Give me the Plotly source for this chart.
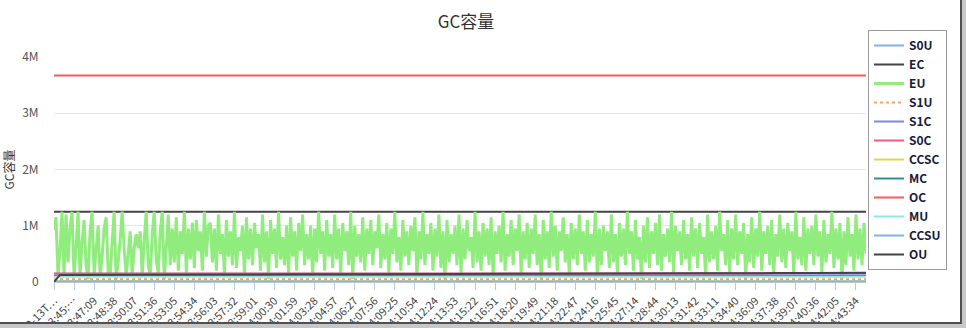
import plotly.graph_objects as go

# ---------------- data (values in M) ----------------
tick_labels = ["2017-10-13T…", "13:45:…", "13:47:09", "13:48:38", "13:50:07", "13:51:36",
               "13:53:05", "13:54:34", "13:56:03", "13:57:32", "13:59:01", "14:00:30",
               "14:01:59", "14:03:28", "14:04:57", "14:06:27", "14:07:56", "14:09:25",
               "14:10:54", "14:12:24", "14:13:53", "14:15:22", "14:16:51", "14:18:20",
               "14:19:49", "14:21:18", "14:22:47", "14:24:16", "14:25:45", "14:27:14",
               "14:28:44", "14:30:13", "14:31:42", "14:33:11", "14:34:40", "14:36:09",
               "14:37:38", "14:39:07", "14:40:36", "14:42:05", "14:43:34"]
samples_per_label = 10

EU = [
    0.92, 1.15, 0.1, 0.55, 1.25, 0.1, 1.2, 0.35, 0.95, 1.25, 0.08, 0.6, 1.25, 0.1, 0.7, 1.1, 0.3, 0.05, 0.9, 1.25,
    0.15, 0.55, 1.0, 0.1, 0.45, 0.95, 1.15, 0.2, 0.1, 0.7, 1.25, 0.05, 0.35, 0.75, 1.25, 0.6, 0.1, 0.5, 0.9, 0.12,
    0.6, 0.85, 0.6, 0.9, 0.1, 0.75, 1.25, 0.3, 0.1, 0.85, 1.25, 0.4, 0.15, 0.9, 1.25, 0.05, 0.6, 1.2, 0.3, 0.95,
    0.35, 1.15, 0.2, 0.9, 0.5, 1.25, 0.15, 0.95, 0.4, 1.05, 0.25, 1.1, 0.55, 0.9, 0.2, 1.25, 0.45, 1.0,
    1.05, 0.35, 0.95, 0.2, 1.2, 0.5, 0.85, 0.15, 1.1, 0.45, 0.9, 0.3, 1.25, 0.25, 0.8, 0.55, 1.0, 0.1, 1.15, 0.4,
    0.95, 0.3, 1.05, 0.6, 0.85, 0.2, 1.2, 0.35, 0.9, 0.05, 1.1, 0.5, 0.95, 0.25, 1.25, 0.4, 0.8, 0.3, 1.0, 0.15,
    1.15, 0.45, 0.9, 0.2, 1.05, 0.55, 1.2, 0.3, 0.85, 0.4, 1.0, 0.1, 0.95, 0.35, 1.25, 0.5, 0.9, 0.2, 1.1, 0.45,
    0.85, 0.25, 1.2, 0.4, 0.95, 0.15, 1.05, 0.55, 0.9, 0.3, 1.25, 0.05, 1.0, 0.45, 0.85, 0.35, 1.15, 0.2, 0.95, 0.5,
    1.1, 0.3, 0.9, 0.6, 1.2, 0.25, 0.85, 0.4, 1.05, 0.15, 0.95, 0.5, 1.25, 0.35, 0.8, 0.2, 1.1, 0.45, 0.9, 0.3,
    1.0, 0.55, 1.15, 0.1, 0.9, 0.4, 1.25, 0.3, 0.85, 0.5, 1.05, 0.2, 0.95, 0.45, 1.2, 0.25, 0.9, 0.05, 1.1, 0.35,
    0.85, 0.5, 1.0, 0.3, 1.2, 0.15, 0.95, 0.4, 1.1, 0.55, 0.8, 0.25, 1.25, 0.35, 0.9, 0.2, 1.05, 0.45, 0.95, 0.3,
    1.15, 0.1, 0.9, 0.5, 1.0, 0.35, 1.25, 0.2, 0.85, 0.45, 1.1, 0.3, 0.95, 0.55, 1.2, 0.15, 0.9, 0.4, 1.05, 0.25,
    0.95, 0.5, 1.2, 0.3, 0.85, 0.05, 1.1, 0.4, 0.9, 0.25, 1.25, 0.45, 1.0, 0.2, 0.9, 0.55, 1.15, 0.35, 0.85, 0.15,
    1.05, 0.4, 0.95, 0.3, 1.2, 0.5, 0.9, 0.2, 1.1, 0.35, 0.85, 0.45, 1.25, 0.1, 0.95, 0.3, 1.0, 0.55, 0.9, 0.25,
    1.2, 0.35, 0.85, 0.15, 1.05, 0.45, 0.95, 0.3, 1.25, 0.5, 0.9, 0.2, 1.1, 0.4, 0.8, 0.05, 1.0, 0.35, 1.15, 0.25,
    0.9, 0.5, 1.05, 0.3, 1.2, 0.2, 0.85, 0.45, 0.95, 0.35, 1.25, 0.15, 1.0, 0.55, 0.9, 0.3, 1.1, 0.4, 0.85, 0.2,
    1.15, 0.45, 0.95, 0.25, 1.05, 0.5, 0.8, 0.1, 1.2, 0.35, 0.9, 0.4, 1.0, 0.2, 1.25, 0.55, 0.85, 0.3, 1.1, 0.15,
    0.95, 0.4, 1.2, 0.3, 0.9, 0.5, 1.05, 0.05, 0.85, 0.35, 1.15, 0.25, 0.95, 0.45, 1.25, 0.2, 0.9, 0.5, 1.0, 0.3,
    1.1, 0.15, 0.85, 0.45, 1.2, 0.35, 0.95, 0.25, 1.05, 0.55, 0.9, 0.1, 1.25, 0.4, 0.8, 0.3, 1.15, 0.2, 0.95, 0.5,
    1.0, 0.3, 1.2, 0.45, 0.9, 0.15, 1.1, 0.35, 0.85, 0.5, 1.25, 0.25, 0.95, 0.4, 1.05, 0.05, 0.9, 0.3, 1.15, 0.45,
    0.85, 0.2, 1.2, 0.4, 0.95, 0.3, 1.05, 0.5,
]

# slow series, sampled at these sample indices
slow_idx = [0, 3, 40, 80, 120, 160, 200, 240, 280, 320, 360, 380, 405]
S0U  = [0.0, 0.01, 0.01, 0.0, 0.01, 0.0, 0.01, 0.0, 0.01, 0.0, 0.01, 0.0, 0.01]
EC   = [1.25] * 13
S1U  = [0.05, 0.05, 0.05, 0.05, 0.05, 0.05, 0.05, 0.05, 0.05, 0.05, 0.05, 0.05, 0.05]
S1C  = [0.148] * 13
S0C  = [0.152, 0.152, 0.152, 0.150, 0.150, 0.150, 0.150, 0.150, 0.150, 0.150, 0.155, 0.160, 0.160]
CCSC = [0.012] * 13
MC   = [0.105] * 13
OC   = [3.67] * 13
MU   = [0.095] * 13
CCSU = [0.01] * 13
OU   = [0.0, 0.125, 0.128, 0.132, 0.136, 0.140, 0.143, 0.146, 0.150, 0.154, 0.158, 0.162, 0.165]

names  = ["S0U", "EC", "EU", "S1U", "S1C", "S0C", "CCSC", "MC", "OC", "MU", "CCSU", "OU"]
colors = ["#7cb5ec", "#434348", "#90ed7d", "#f7a35c", "#8085e9", "#f15c80",
          "#e4d354", "#2b908f", "#f45b5b", "#91e8e1", "#7cb5ec", "#434348"]
series = {"S0U": S0U, "EC": EC, "S1U": S1U, "S1C": S1C, "S0C": S0C, "CCSC": CCSC,
          "MC": MC, "OC": OC, "MU": MU, "CCSU": CCSU, "OU": OU}

fig = go.Figure()
for name, color in zip(names, colors):
    if name == "EU":
        xs = list(range(len(EU)))
        ys = EU
        w = 3
    else:
        xs = slow_idx
        ys = series[name]
        w = 2
    fig.add_trace(go.Scatter(
        x=xs, y=ys, name=name, mode="lines",
        line=dict(color=color, width=w, dash="dot" if name == "S1U" else "solid",
                  simplify=False),
    ))

n_last = len(EU) - 1
tickvals = [k * samples_per_label for k in range(len(tick_labels))]

L, R, T, B = 54, 100, 57, 46
W, H = 966, 328
PB = H - B  # plot bottom in page pixels

def px_x(x):
    return (x - L) / (W - L - R)

def px_y(y):
    return (PB - y) / (H - T - B)

def frame_rect(xa, xb, ya, yb, color):
    # page-pixel rectangle (x right, y down) converted to pixel offsets from plot's bottom-left
    return dict(type="rect", xref="paper", yref="paper", xsizemode="pixel", ysizemode="pixel",
                xanchor=0, yanchor=0, x0=xa - L, x1=xb - L, y0=PB - ya, y1=PB - yb,
                fillcolor=color, line_width=0, layer="above")

frame = [
    frame_rect(-2, W + 2, 322, H + 2, "#c8c8c8"),
    frame_rect(960, W + 2, -2, H + 2, "#c8c8c8"),
    frame_rect(-2, 962, 322, 324, "#505050"),
    frame_rect(960, 962, -2, 324, "#505050"),
]

fig.update_layout(
    width=W, height=H,
    margin=dict(l=L, r=R, t=T, b=B, autoexpand=False),
    paper_bgcolor="white", plot_bgcolor="white",
    font=dict(family="Noto Sans CJK SC, Noto Sans, sans-serif", color="#333"),
    title=dict(text="GC容量", x=px_x(466), xref="paper", xanchor="center",
               y=1 - 22 / H, yanchor="middle", font=dict(size=17, color="#333")),
    showlegend=True,
    legend=dict(x=px_x(868), y=px_y(30), xanchor="left", yanchor="top",
                bordercolor="#999", borderwidth=1, bgcolor="white", maxheight=300,
                font=dict(size=12, color="#1a1a3a", family="Noto Sans CJK SC", weight="bold"),
                itemwidth=30, tracegroupgap=0),
    xaxis=dict(range=[0, n_last], tickmode="array", tickvals=tickvals, ticktext=tick_labels,
               tickangle=-45, ticks="outside", ticklen=7, tickcolor="#b8c8e0",
               showline=True, linecolor="#b8c8e0", linewidth=1, showgrid=False,
               zeroline=False, automargin=False, ticklabeloverflow="allow",
               tickfont=dict(size=11, color="#444")),
    yaxis=dict(range=[0, 4], tickmode="array", tickvals=[0, 1, 2, 3, 4],
               ticktext=["0", "1M", "2M", "3M", "4M"], showgrid=True, gridcolor="#e6e6e6",
               zeroline=False, showline=False, ticks="outside", ticklen=12,
               tickcolor="rgba(0,0,0,0)", tickfont=dict(size=12, color="#555"),
               automargin=False,
               title=dict(text="GC容量", font=dict(size=12, color="#333"), standoff=14)),
    shapes=frame,
)

fig.write_html("out.html")
